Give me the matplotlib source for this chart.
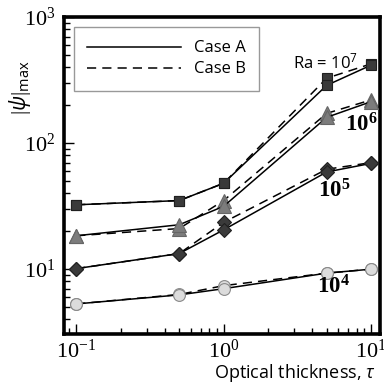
import matplotlib
matplotlib.use("Agg")
import matplotlib.pyplot as plt
from matplotlib.lines import Line2D
from matplotlib.ticker import FixedLocator, LogLocator, NullFormatter

plt.rcParams['mathtext.fontset'] = 'custom'
plt.rcParams['mathtext.rm'] = 'Liberation Serif'
plt.rcParams['mathtext.it'] = 'Open Sans:italic'
plt.rcParams['mathtext.bf'] = 'Liberation Serif:bold'
plt.rcParams['mathtext.sf'] = 'Open Sans'
plt.rcParams['font.family'] = ['Open Sans', 'DejaVu Sans']

# optical thickness values
tau = [0.1, 0.5, 1, 5, 10]

# maximum stream function, Case A (solid) and Case B (dashed)
ra4_a = [5.3, 6.25, 7.0, 9.3, 10.0]
ra4_b = [5.3, 6.3, 7.4, 9.3, 10.0]
ra5_a = [10.1, 13.3, 20.5, 59, 69]
ra5_b = [10.1, 13.3, 23.5, 62, 70]
ra6_a = [18.4, 22.5, 31.5, 160, 213]
ra6_b = [18.4, 21.0, 35.0, 172, 220]
ra7_a = [32.4, 35.0, 48.0, 287, 415]
ra7_b = [32.4, 35.0, 48.0, 327, 425]

xticks = [0.1, 1, 10]
xtick_labels = [r'$\mathrm{10^{-1}}$', r'$\mathrm{10^{0}}$', r'$\mathrm{10^{1}}$']
yticks = [10, 100, 1000]
ytick_labels = [r'$\mathrm{10^{1}}$', r'$\mathrm{10^{2}}$', r'$\mathrm{10^{3}}$']

W, H = 384, 383
fig = plt.figure(figsize=(W / 100, H / 100), dpi=100)
ax = fig.add_axes([63.5 / W, 1 - 334 / H, (380 - 63.5) / W, (334 - 17) / H])

styles = [
    (ra7_a, ra7_b, 's', '#3a3a3a', '#202020', 7.5),
    (ra6_a, ra6_b, '^', '#7c7c7c', '#666666', 9.5),
    (ra5_a, ra5_b, 'D', '#3a3a3a', '#202020', 7.5),
    (ra4_a, ra4_b, 'o', '#dcdcdc', '#8a8a8a', 8.5),
]
for ya, yb, mk, fc, ec, ms in styles:
    ax.plot(tau, yb, color='black', lw=1.1, ls=(0, (6, 4)), marker=mk,
            mfc=fc, mec=ec, ms=ms, mew=0.8, zorder=2)
    ax.plot(tau, ya, color='black', lw=1.1, ls='-', marker=mk,
            mfc=fc, mec=ec, ms=ms, mew=0.8, zorder=3)

ax.set_xscale('log')
ax.set_yscale('log')
ax.set_xlim(0.082, 11.5)
ax.set_ylim(3.06, 1000)

ax.xaxis.set_major_locator(FixedLocator(xticks))
ax.set_xticklabels(xtick_labels)
ax.yaxis.set_major_locator(FixedLocator(yticks))
ax.set_yticklabels(ytick_labels)
for axis in (ax.xaxis, ax.yaxis):
    axis.set_minor_locator(LogLocator(base=10, subs=range(2, 10)))
    axis.set_minor_formatter(NullFormatter())
ax.tick_params(which='both', direction='in', top=False, right=False,
               width=1.0, labelsize=16, colors='black')
ax.tick_params(which='major', length=7, pad=6)
ax.tick_params(axis='x', which='major', pad=4)
ax.tick_params(which='minor', length=4)
for s in ax.spines.values():
    s.set_linewidth(2.6)

fig.text(20 / W, 1 - 88 / H, r'$|\psi|_{\mathsf{max}}$', rotation=90,
         ha='center', va='center', fontsize=15)
fig.text(295 / W, 1 - 378 / H, r'Optical thickness, $\tau$',
         ha='center', va='baseline', fontsize=13)

fig.text(293 / W, 1 - 62 / H, r'Ra = $\mathsf{10^{7}}$', ha='left',
         va='center', fontsize=12)
fig.text(345 / W, 1 - 126 / H, r'$\mathbf{10^{6}}$', ha='left',
         va='center', fontsize=16.5)
fig.text(318 / W, 1 - 192 / H, r'$\mathbf{10^{5}}$', ha='left',
         va='center', fontsize=16.5)
fig.text(317 / W, 1 - 288 / H, r'$\mathbf{10^{4}}$', ha='left',
         va='center', fontsize=16.5)

handles = [Line2D([], [], color='black', lw=1.1, ls='-'),
           Line2D([], [], color='black', lw=1.1, ls=(0, (6, 4)))]
leg = ax.legend(handles, ['Case A', 'Case B'], loc='upper left',
                bbox_to_anchor=(74 / W, 1 - 27 / H),
                bbox_transform=fig.transFigure, borderaxespad=0,
                fontsize=12, handlelength=5.6, handletextpad=0.8,
                frameon=True, fancybox=False, framealpha=1,
                borderpad=0.8, labelspacing=0.3)
leg.get_frame().set_edgecolor('#999999')
leg.get_frame().set_linewidth(1.0)

fig.savefig('out.png', dpi=100)
